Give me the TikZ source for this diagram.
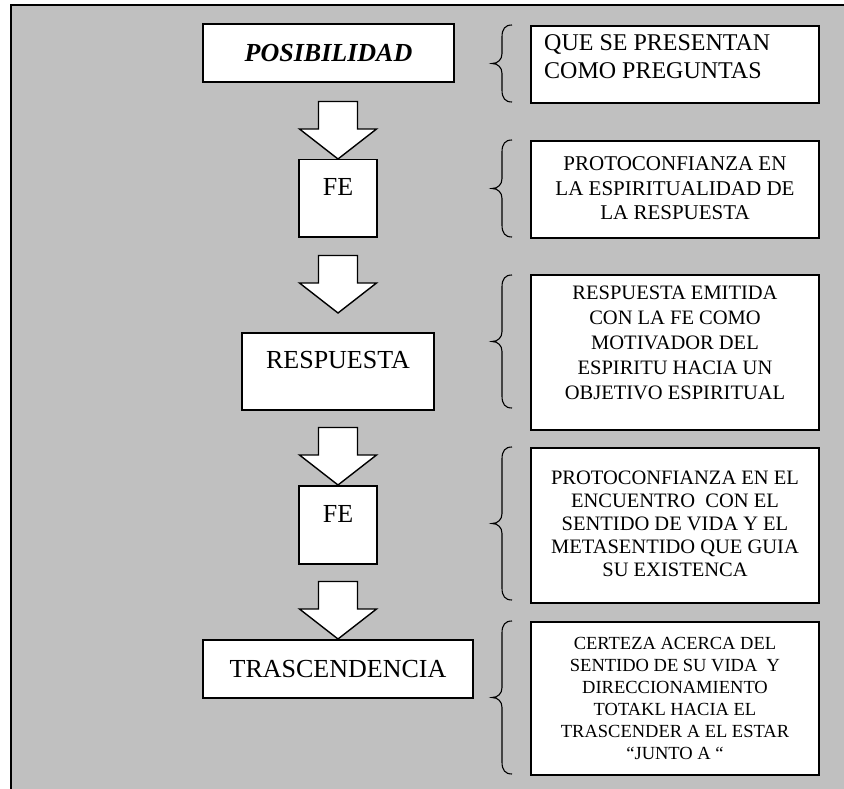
\documentclass[tikz,border=0pt]{standalone}
\usepackage{fontspec}
\setmainfont{Liberation Serif}
\definecolor{bg}{RGB}{192,192,192}
\newcommand\wordbrace[2]{%
  \pgfmathsetmacro\bt{#1}\pgfmathsetmacro\bb{#2}%
  \pgfmathsetmacro\bm{(#1+#2)/2}%
  \draw[bracestyle] (512,\bt) .. controls (505,\bt) and (502,\bt+4) .. (502,\bt+12)
    -- (502,\bm-10) .. controls (502,\bm-4) and (498,\bm) .. (492,\bm)
    .. controls (498,\bm) and (502,\bm+4) .. (502,\bm+10)
    -- (502,\bb-12) .. controls (502,\bb-4) and (505,\bb) .. (512,\bb);}
\begin{document}
\begin{tikzpicture}[x=1pt,y=-1pt,
  lbox/.style={draw=black, fill=white, line width=1.5pt, inner sep=0pt},
  rbox/.style={draw=black, fill=white, line width=2pt, inner sep=0pt, minimum width=288, anchor=north west},
  ltxt/.style={inner sep=0pt, font=\fontsize{26}{30}\selectfont},
  rtxt/.style={inner sep=0pt, align=center},
  arr/.style={draw=black, fill=white, line width=1.4pt, line join=miter},
  bracestyle/.style={draw=black, line width=1.1pt},
  blockarrow/.pic={\path[arr] (-19.5,-57.5) -- (19.5,-57.5) -- (19.5,-30) -- (38.5,-30)
      -- (0,0) -- (-38.5,-30) -- (-19.5,-30) -- cycle;}
]
\useasboundingbox (0,0) rectangle (844,789);
\clip (0,0) rectangle (844,789);
\fill[bg] (11,5) rectangle (860,800);
\draw[line width=2pt] (11,800) -- (11,5) -- (860,5);

% left column
\node[lbox, minimum width=251, minimum height=58] (pos) at (328.5,53) {};
\node[ltxt, font=\fontsize{26}{30}\selectfont\bfseries\itshape] (post) at (pos.center) {POSIBILIDAD};

\node[lbox, minimum width=78, minimum height=77, anchor=north] (fe1) at (338,159) {};
\node[ltxt] (fe1t) at ([yshift=11]fe1.center) {FE};

\node[lbox, minimum width=192, minimum height=77, anchor=north] (resp) at (338,332) {};
\node[ltxt] (respt) at ([yshift=11.5]resp.center) {RESPUESTA};

\node[lbox, minimum width=78, minimum height=78, anchor=north] (fe2) at (338,485) {};
\node[ltxt] (fe2t) at ([yshift=10.5]fe2.center) {FE};

\node[lbox, minimum width=270, minimum height=58, anchor=north] (tras) at (338,639) {};
\node[ltxt] (trast) at (tras.center) {TRASCENDENCIA};

% block arrows
\pic at (fe1.north) {blockarrow};
\pic at ([yshift=19]resp.north) {blockarrow};
\pic at (fe2.north) {blockarrow};
\pic at (tras.north) {blockarrow};

% right column
\node[rbox, minimum height=77] (r1) at (530,25) {};
\node[rtxt, align=left, anchor=west, font=\fontsize{24}{28}\selectfont] (r1t) at ([xshift=14,yshift=7.5]r1.west) {QUE SE PRESENTAN\\COMO PREGUNTAS};

\node[rbox, minimum height=97] (r2) at (530,140) {};
\node[rtxt, font=\fontsize{21}{24.5}\selectfont] (r2t) at ([yshift=1]r2.center) {PROTOCONFIANZA EN\\LA ESPIRITUALIDAD DE\\LA RESPUESTA};

\node[rbox, minimum height=155] (r3) at (530,274) {};
\node[rtxt, font=\fontsize{20.5}{25}\selectfont] (r3t) at ([yshift=9.5]r3.center) {RESPUESTA EMITIDA\\CON LA FE COMO\\MOTIVADOR DEL\\ESPIRITU HACIA UN\\OBJETIVO ESPIRITUAL};

\node[rbox, minimum height=155] (r4) at (530,447) {};
\node[rtxt, font=\fontsize{20.5}{23}\selectfont] (r4t) at ([yshift=2]r4.center) {PROTOCONFIANZA EN EL\\ENCUENTRO\ \ CON EL\\SENTIDO DE VIDA Y EL\\METASENTIDO QUE GUIA\\SU EXISTENCA};

\node[rbox, minimum height=153] (r5) at (530,621) {};
\node[rtxt, font=\fontsize{18.5}{22}\selectfont] (r5t) at (r5.center) {CERTEZA ACERCA DEL\\SENTIDO DE SU VIDA\ \ Y\\DIRECCIONAMIENTO\\TOTAKL HACIA EL\\TRASCENDER A EL ESTAR\\“JUNTO A “};

% braces
\wordbrace{25}{102}
\wordbrace{140}{237}
\wordbrace{275}{408}
\wordbrace{447}{600}
\wordbrace{621}{774}
\end{tikzpicture}
\end{document}
